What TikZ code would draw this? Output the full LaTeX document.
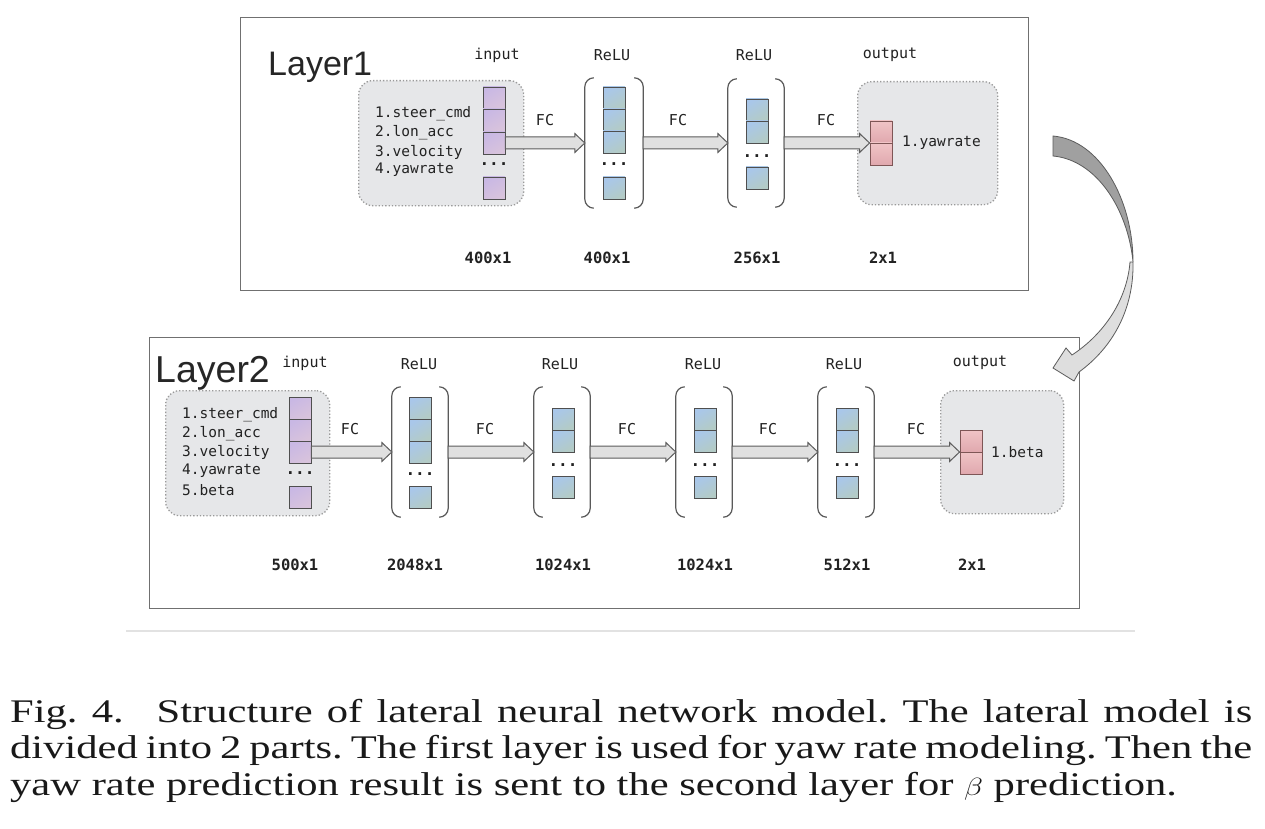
\documentclass[tikz,border=0pt]{standalone}
\usepackage{fontspec}
\setmainfont{Liberation Serif}
\newfontfamily\monof{DejaVu Sans Mono}
\newfontfamily\sansf{Liberation Sans}
\newfontfamily\capf[FakeStretch=1.29]{Liberation Serif}
\usetikzlibrary{arrows.meta,calc}
\definecolor{panelc}{HTML}{707070}
\definecolor{boxfill}{HTML}{E6E7E9}
\definecolor{dotc}{HTML}{9A9A9A}
\definecolor{celledge}{HTML}{4F4F4F}
\definecolor{bluetop}{HTML}{A9C7EA}
\definecolor{bluebot}{HTML}{B3CBC6}
\definecolor{purptop}{HTML}{C9B8E4}
\definecolor{purpbot}{HTML}{D8C3DC}
\definecolor{redtop}{HTML}{F0C4C6}
\definecolor{redbot}{HTML}{E0A8AE}
\definecolor{rededge}{HTML}{7E5656}
\definecolor{brkc}{HTML}{5A5A5A}
\definecolor{arrowedge}{HTML}{5C5C5C}
\definecolor{arrowfill}{HTML}{E0E0E0}
\definecolor{textc}{HTML}{222222}
\definecolor{ribbondark}{HTML}{A0A0A0}
\definecolor{ribbonlight}{HTML}{DEDEDE}
\definecolor{sepc}{HTML}{E2E2E2}
\newcommand\drawbrk[1]{%
  \draw[brk] ([xshift=9pt]#1.north west) -- (#1.north west) -- (#1.south west) -- ([xshift=9pt]#1.south west);
  \draw[brk] ([xshift=-9pt]#1.north east) -- (#1.north east) -- (#1.south east) -- ([xshift=-9pt]#1.south east);}
\begin{document}
\begin{tikzpicture}[x=1pt,y=-1pt,
  panel/.style={draw=panelc, line width=1.4pt, anchor=north west, inner sep=0pt},
  iobox/.style={draw=dotc, dotted, line width=1.3pt, fill=boxfill, rounded corners=14pt, anchor=north west, inner sep=0pt},
  cellbase/.style={draw=celledge, line width=0.9pt, minimum width=22pt, minimum height=22pt, inner sep=0pt},
  bcell/.style={cellbase, top color=bluetop, bottom color=bluebot, shading angle=30},
  pcell/.style={cellbase, top color=purptop, bottom color=purpbot, shading angle=30},
  rcell/.style={cellbase, top color=redtop, bottom color=redbot, draw=rededge},
  brkbox/.style={inner sep=0pt, minimum width=56pt, minimum height=130pt},
  brk/.style={draw=brkc, line width=1.2pt, rounded corners=9pt},
  fcarrow/.style={fill=arrowfill, draw=arrowedge, line width=1pt, line join=miter,
    to path={let \p1=(\tikztostart), \p2=(\tikztotarget) in
      (\x1,{\y1+6pt}) -- ({\x2-10pt},{\y1+6pt}) -- ({\x2-10pt},{\y1+9.5pt}) -- (\x2,\y1)
      -- ({\x2-10pt},{\y1-9.5pt}) -- ({\x2-10pt},{\y1-6pt}) -- (\x1,{\y1-6pt}) -- cycle}},
  lbl/.style={font=\monof\fontsize{15}{18}\selectfont, text=textc, inner sep=0pt},
  lst/.style={font=\monof\fontsize{14.5}{17}\selectfont, text=textc, inner sep=0pt, anchor=west},
  sz/.style={font=\monof\bfseries\fontsize{15.5}{18}\selectfont, text=textc, inner sep=0pt},
  dots/.style={font=\monof\bfseries\fontsize{16}{18}\selectfont, text=textc, inner sep=0pt},
  ttl/.style={font=\sansf\fontsize{34}{38}\selectfont, text=black!85, inner sep=0pt, anchor=base west}]
\useasboundingbox (0,0) rectangle (1265,829);
\fill[white] (0,0) rectangle (1265,829);

% ================= Layer 1 =================
\node[panel, minimum width=788pt, minimum height=273pt] (P1) at (240,17) {};
\node[ttl] (T1) at (268,76) {Layer1};
\node[iobox, minimum width=165pt, minimum height=125pt] (IB1) at (358,80) {};
\node[lst] (L1a) at (375,114) {1.steer\_cmd};
\node[lst] (L1b) at (375,133) {2.lon\_acc};
\node[lst] (L1c) at (375,152) {3.velocity};
\node[lst] (L1d) at (375,170) {4.yawrate};
\node[pcell] (I1a) at (494,98) {};
\node[pcell] (I1b) at (494,120) {};
\node[pcell] (I1c) at (494,143) {};
\node[dots] (I1x) at (494,164) {...};
\node[pcell] (I1d) at (494,188) {};

\node[brkbox, minimum width=58pt] (B1) at (614,143) {};
\drawbrk{B1}
\node[bcell] (B1a) at (614,98) {};
\node[bcell] (B1b) at (614,120) {};
\node[bcell] (B1c) at (614,142) {};
\node[dots] (B1x) at (614,164) {...};
\node[bcell] (B1d) at (614,188) {};

\node[brkbox, minimum height=128pt] (B2) at (756,143) {};
\drawbrk{B2}
\node[bcell] (B2a) at (757,110) {};
\node[bcell] (B2b) at (757,132) {};
\node[dots] (B2x) at (757,156) {...};
\node[bcell] (B2c) at (757,178) {};

\node[iobox, minimum width=140pt, minimum height=123pt] (OB1) at (857,81) {};
\node[rcell] (O1a) at (881,132) {};
\node[rcell] (O1b) at (881,154) {};
\node[lst] (O1t) at (902,143) {1.yawrate};

\path[fcarrow] (I1c.east) to (B1.west);
\path[fcarrow] (B1.east) to (B2.west);
\path[fcarrow] (B2.east) to (O1a.south west);

\node[lbl] (H1a) at (497,55) {input};
\node[lbl] (H1b) at (612,55) {ReLU};
\node[lbl] (H1c) at (754,55) {ReLU};
\node[lbl] (H1d) at (890,55) {output};
\node[lbl] (F1a) at (545,120) {FC};
\node[lbl] (F1b) at (678,120) {FC};
\node[lbl] (F1c) at (826,120) {FC};
\node[sz] (S1a) at (488,258) {400x1};
\node[sz] (S1b) at (607,258) {400x1};
\node[sz] (S1c) at (757,258) {256x1};
\node[sz] (S1d) at (883,258) {2x1};

% ================= Layer 2 =================
\node[panel, minimum width=930pt, minimum height=271pt] (P2) at (149,337) {};
\node[ttl, font=\sansf\fontsize{37.5}{40}\selectfont] (T2) at (155,382) {Layer2};
\node[iobox, minimum width=164pt, minimum height=125pt] (IB2) at (165,390) {};
\node[lst] (L2a) at (182,415) {1.steer\_cmd};
\node[lst] (L2b) at (182,434) {2.lon\_acc};
\node[lst] (L2c) at (182,452) {3.velocity};
\node[lst] (L2d) at (182,471) {4.yawrate};
\node[lst] (L2e) at (182,490) {5.beta};
\node[pcell] (I2a) at (300,408) {};
\node[pcell] (I2b) at (300,430) {};
\node[pcell] (I2c) at (300,452) {};
\node[dots] (I2x) at (300,473) {...};
\node[pcell] (I2d) at (300,497) {};

\node[brkbox] (C1) at (420,452) {};
\drawbrk{C1}
\node[bcell] (C1a) at (420,408) {};
\node[bcell] (C1b) at (420,430) {};
\node[bcell] (C1c) at (420,452) {};
\node[dots] (C1x) at (420,474) {...};
\node[bcell] (C1d) at (420,497) {};

\node[brkbox] (C2) at (562,452) {};
\drawbrk{C2}
\node[bcell] (C2a) at (563,419) {};
\node[bcell] (C2b) at (563,441) {};
\node[dots] (C2x) at (563,465) {...};
\node[bcell] (C2c) at (563,487) {};

\node[brkbox] (C3) at (704,452) {};
\drawbrk{C3}
\node[bcell] (C3a) at (705,419) {};
\node[bcell] (C3b) at (705,441) {};
\node[dots] (C3x) at (705,465) {...};
\node[bcell] (C3c) at (705,487) {};

\node[brkbox] (C4) at (846,452) {};
\drawbrk{C4}
\node[bcell] (C4a) at (847,419) {};
\node[bcell] (C4b) at (847,441) {};
\node[dots] (C4x) at (847,465) {...};
\node[bcell] (C4c) at (847,487) {};

\node[iobox, minimum width=123pt, minimum height=123pt] (OB2) at (940,390) {};
\node[rcell] (O2a) at (971,441) {};
\node[rcell] (O2b) at (971,463) {};
\node[lst] (O2t) at (991,452) {1.beta};

\path[fcarrow] (I2c.east) to (C1.west);
\path[fcarrow] (C1.east) to (C2.west);
\path[fcarrow] (C2.east) to (C3.west);
\path[fcarrow] (C3.east) to (C4.west);
\path[fcarrow] (C4.east) to (O2a.south west);

\node[lbl] (H2a) at (305,363) {input};
\node[lbl] (H2b) at (419,364) {ReLU};
\node[lbl] (H2c) at (560,364) {ReLU};
\node[lbl] (H2d) at (703,364) {ReLU};
\node[lbl] (H2e) at (844,364) {ReLU};
\node[lbl] (H2f) at (980,363) {output};
\node[lbl] (F2a) at (350,429) {FC};
\node[lbl] (F2b) at (485,429) {FC};
\node[lbl] (F2c) at (627,429) {FC};
\node[lbl] (F2d) at (768,429) {FC};
\node[lbl] (F2e) at (916,429) {FC};
\node[sz] (S2a) at (295,565) {500x1};
\node[sz] (S2b) at (415,565) {2048x1};
\node[sz] (S2c) at (563,565) {1024x1};
\node[sz] (S2d) at (705,565) {1024x1};
\node[sz] (S2e) at (847,565) {512x1};
\node[sz] (S2f) at (972,565) {2x1};

% ================= curved transfer arrow =================
\coordinate (RtA) at (1053,136);
\coordinate (RtB) at (1053,156);
\coordinate (Rmid) at (1133,262);
\coordinate (RmidIn) at (1130,262);
\coordinate (Rtip) at (1053,368);
\filldraw[fill=ribbondark, draw=arrowedge, line width=0.8pt]
  (RtA) .. controls (1100,140) and (1133,200) .. (Rmid)
  .. controls (1128,210) and (1097,160) .. (RtB) -- cycle;
\filldraw[fill=ribbonlight, draw=arrowedge, line width=0.8pt, line join=miter]
  (Rmid) .. controls (1134,310) and (1112,348) .. (1079,372)
  -- (1074,381) -- (Rtip) -- (1066,348) -- (1072,355)
  .. controls (1104,334) and (1127,300) .. (RmidIn) -- cycle;

% ================= separator and caption =================
\coordinate (SepL) at (126,631);
\coordinate (SepR) at (1135,631);
\draw[sepc, line width=2pt] (SepL) -- (SepR);
\node[anchor=north west, inner sep=0pt, text width=1242pt, align=justify,
      font=\capf\fontsize{33}{36.5}\selectfont\frenchspacing, text=black!90] (CAP) at (10,699)
  {Fig. 4.\quad Structure of lateral neural network model. The lateral model is\linebreak
   divided into 2 parts. The first layer is used for yaw rate modeling. Then the\linebreak
   yaw rate prediction result is sent to the second layer for \scalebox{1.25}[1]{$\beta$} prediction.};
\end{tikzpicture}
\end{document}
